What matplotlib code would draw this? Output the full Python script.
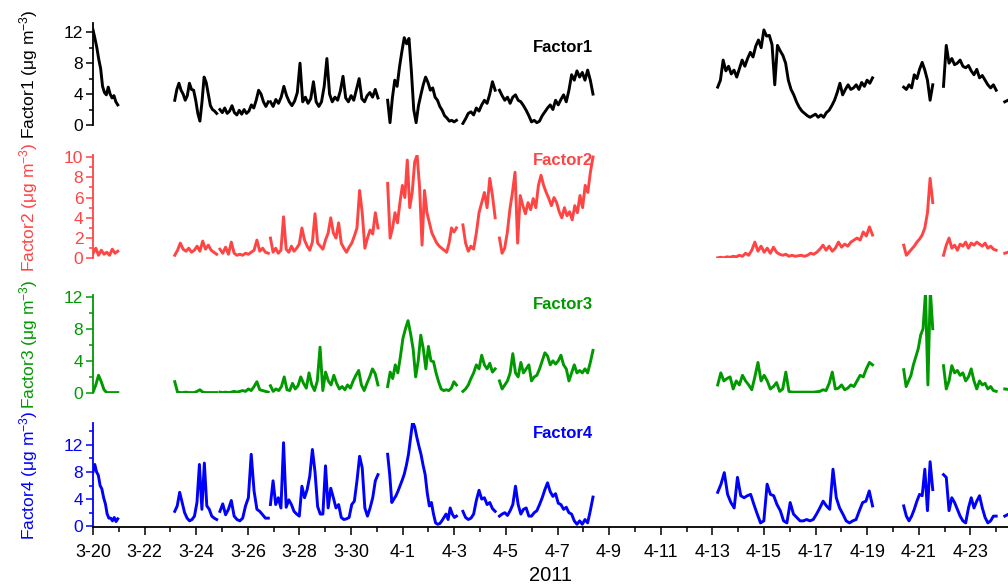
import matplotlib
matplotlib.use("Agg")
import matplotlib.pyplot as plt
import pandas as pd

plt.rcParams['font.family'] = ['Liberation Sans', 'DejaVu Sans']
plt.rcParams['mathtext.fontset'] = 'custom'
plt.rcParams['mathtext.rm'] = 'Liberation Sans'
plt.rcParams['mathtext.it'] = 'Liberation Sans'

# sampling periods (start, end) - the gaps between them are missing data
segments = [
    ("2011-03-20 00:00", "2011-03-20 23:00"),
    ("2011-03-23 04:00", "2011-03-24 19:00"),
    ("2011-03-24 22:00", "2011-03-26 19:00"),
    ("2011-03-26 21:00", "2011-03-31 01:00"),
    ("2011-03-31 10:00", "2011-04-03 02:00"),
    ("2011-04-03 08:00", "2011-04-04 14:00"),
    ("2011-04-04 18:00", "2011-04-08 09:00"),
    ("2011-04-13 05:00", "2011-04-19 05:00"),
    ("2011-04-20 10:00", "2011-04-21 13:00"),
    ("2011-04-21 23:00", "2011-04-24 00:00"),
    ("2011-04-24 08:00", "2011-04-24 14:00"),
]

factor1 = [
    [12.3, 11.2, 10.0, 8.5, 7.3, 5.0, 4.2, 3.9, 4.9, 4.0, 3.5, 3.8, 3.0, 2.6],
    [3.2, 4.6, 5.4, 4.5, 4.0, 3.2, 3.8, 5.4, 4.6, 4.5, 3.2, 1.5, 0.5, 3.0, 6.2, 5.5, 4.0, 2.5, 2.0, 1.8, 1.5],
    [2.0, 1.6, 2.2, 1.5, 1.8, 2.5, 1.6, 1.3, 1.9, 1.4, 2.0, 1.5, 1.8, 2.6, 2.2, 3.2, 4.5, 4.0, 3.0, 2.4, 3.0],
    [3.0, 2.4, 3.3, 2.8, 3.6, 5.0, 3.8, 3.0, 2.5, 3.1, 4.2, 8.0, 3.0, 3.6, 2.8, 3.4, 5.6, 3.0, 2.4, 3.0, 5.0,
     8.6, 4.0, 3.0, 3.6, 3.2, 4.4, 6.3, 3.5, 3.0, 3.8, 3.2, 4.6, 6.0, 3.4, 3.0, 3.8, 4.2, 3.6, 4.6, 3.5],
    [3.2, 0.3, 3.5, 5.8, 5.0, 7.5, 9.5, 11.3, 10.5, 11.2, 7.0, 2.0, 0.3, 2.5, 3.9, 5.2, 6.2, 5.5, 4.5, 4.8,
     3.6, 3.2, 2.4, 1.9, 1.2, 0.9, 0.5, 0.6, 0.4, 0.6],
    [0.2, 0.8, 1.5, 1.7, 1.3, 2.2, 1.8, 2.6, 3.2, 2.8, 4.0, 5.6, 4.5],
    [4.5, 3.8, 3.2, 3.6, 2.8, 3.6, 3.9, 3.2, 3.0, 2.5, 1.9, 1.2, 0.4, 0.6, 0.3, 0.5, 1.2, 1.7, 2.2, 2.6, 2.0,
     3.2, 2.6, 3.3, 3.9, 3.0, 4.5, 6.5, 5.8, 7.0, 6.2, 6.8, 5.8, 7.1, 5.8, 4.0],
    [4.9, 5.8, 8.4, 7.0, 7.6, 6.6, 7.1, 6.2, 7.3, 8.4, 7.6, 8.6, 9.4, 8.8, 10.2, 11.0, 10.0, 12.3, 11.5, 11.6,
     10.4, 5.2, 10.3, 9.6, 9.0, 8.0, 5.8, 4.6, 3.9, 3.0, 2.3, 1.8, 1.5, 1.2, 1.0, 1.2, 1.4, 1.0, 1.3, 1.0,
     1.6, 1.9, 2.5, 3.2, 4.2, 5.4, 3.9, 4.6, 5.2, 4.6, 4.8, 5.2, 4.6, 5.5, 5.0, 5.8, 5.4, 6.1],
    [4.9, 4.6, 5.2, 4.8, 6.5, 6.0, 7.2, 8.1, 7.1, 5.8, 3.2, 5.2],
    [5.0, 10.3, 8.0, 8.6, 7.8, 8.0, 8.4, 7.6, 7.4, 7.7, 7.0, 6.5, 7.2, 6.1, 6.4, 5.8, 5.2, 4.8, 5.2, 4.5],
    [3.0, 3.4],
]

factor2 = [
    [0.5, 1.0, 0.3, 0.8, 0.4, 0.6, 0.3, 0.9, 0.5, 0.7],
    [0.3, 0.8, 1.5, 0.9, 0.7, 1.0, 0.6, 0.8, 1.2, 0.7, 1.7, 0.9, 1.3, 0.8, 0.6, 0.4],
    [0.9, 0.5, 1.1, 0.4, 1.6, 0.5, 0.3, 0.4, 0.3, 0.5, 0.4, 0.6, 0.8, 1.8, 0.7, 1.0, 0.6, 0.5],
    [2.0, 0.6, 1.0, 0.5, 0.8, 4.1, 0.9, 0.6, 1.2, 0.7, 1.0, 1.4, 3.0, 1.8, 1.2, 0.8, 1.6, 4.4, 1.5, 1.2, 0.9,
     1.8, 2.5, 4.0, 2.5, 2.0, 3.5, 1.5, 1.0, 0.6, 1.1, 1.5, 2.2, 3.0, 6.7, 4.5, 1.0, 2.0, 2.8, 2.4, 4.5, 3.0],
    [7.4, 2.0, 3.0, 4.5, 3.5, 5.5, 7.2, 6.0, 9.7, 5.0, 6.5, 9.5, 10.2, 7.0, 1.3, 6.7, 4.5, 3.5, 2.5, 2.0,
     1.5, 1.2, 1.0, 0.8, 0.6, 1.5, 3.0, 2.6, 3.0],
    [3.3, 1.5, 0.7, 1.2, 0.9, 2.5, 4.5, 5.5, 6.5, 5.0, 7.9, 6.2, 4.0],
    [2.0, 0.5, 1.0, 2.5, 4.8, 6.5, 8.5, 1.5, 6.2, 5.2, 4.4, 5.5, 4.8, 5.9, 5.0, 7.2, 8.2, 7.2, 6.5, 5.9, 5.2,
     6.0, 5.5, 4.6, 4.0, 5.0, 4.2, 4.6, 3.8, 5.2, 4.5, 6.2, 5.0, 7.2, 6.5, 8.5, 10.0],
    [0.05, 0.1, 0.05, 0.15, 0.1, 0.2, 0.15, 0.3, 0.2, 0.5, 0.3, 0.8, 1.6, 0.7, 1.2, 0.6, 1.0, 0.5, 1.1, 0.6,
     0.4, 0.3, 0.4, 0.2, 0.3, 0.2, 0.25, 0.3, 0.2, 0.3, 0.5, 0.4, 0.6, 0.9, 1.3, 0.8, 1.2, 0.7, 1.0, 1.6,
     1.1, 1.4, 1.2, 1.6, 1.8, 2.0, 1.8, 2.6, 2.2, 3.1, 2.3],
    [1.3, 0.3, 0.6, 0.9, 1.2, 1.6, 1.9, 2.3, 3.0, 4.5, 7.9, 5.5],
    [0.3, 1.3, 2.0, 1.0, 1.3, 0.8, 1.4, 1.2, 1.6, 1.0, 1.5, 1.3, 1.6, 1.4, 1.2, 1.5, 1.0, 1.2, 0.9, 0.8],
    [0.5, 0.7],
]

factor3 = [
    [0.1, 1.0, 2.2, 1.4, 0.4, 0.05, 0.05, 0.05, 0.05, 0.05],
    [1.4, 0.1, 0.05, 0.05, 0.1, 0.05, 0.05, 0.05, 0.2, 0.4, 0.1, 0.05, 0.05, 0.05, 0.05, 0.05],
    [0.1, 0.05, 0.1, 0.05, 0.1, 0.2, 0.1, 0.2, 0.3, 0.2, 0.5, 0.3, 0.8, 1.4, 0.4, 0.3, 0.2, 0.1],
    [0.9, 0.2, 0.5, 0.3, 0.8, 2.0, 0.4, 0.3, 1.2, 0.5, 0.9, 2.0, 1.2, 0.6, 2.5, 1.0, 0.3, 1.5, 5.7, 0.3,
     2.6, 1.5, 1.0, 2.2, 1.2, 0.5, 0.8, 0.4, 1.0, 0.6, 1.5, 2.2, 2.8, 1.0, 0.3, 1.2, 2.0, 3.0, 2.4, 1.0],
    [0.8, 2.6, 1.8, 3.5, 2.5, 4.5, 6.8, 8.0, 9.0, 7.4, 5.5, 2.0, 4.0, 7.2, 5.5, 3.0, 5.8, 4.0, 3.9, 2.5,
     1.4, 0.5, 0.3, 0.4, 0.3, 0.6, 1.4, 1.0],
    [0.2, 0.5, 1.0, 1.8, 2.5, 3.5, 3.0, 4.7, 3.5, 3.0, 3.7, 2.6, 3.0],
    [1.5, 0.5, 1.0, 1.5, 2.5, 4.9, 2.5, 2.0, 3.8, 2.5, 3.0, 3.5, 1.5, 2.0, 2.2, 3.0, 4.0, 5.0, 4.6, 3.5,
     4.0, 3.6, 4.0, 4.7, 3.5, 3.0, 1.5, 2.5, 3.5, 2.5, 2.8, 2.5, 3.0, 2.5, 3.8, 5.3],
    [1.0, 2.5, 1.5, 1.8, 2.0, 0.5, 1.5, 1.0, 2.2, 1.5, 1.0, 0.4, 2.0, 3.8, 1.5, 2.2, 1.5, 0.5, 0.8, 1.3,
     0.2, 0.5, 2.6, 0.2, 0.1, 0.1, 0.1, 0.1, 0.1, 0.1, 0.1, 0.1, 0.15, 0.2, 0.4, 0.3, 1.2, 2.6, 0.5, 0.6,
     1.0, 0.4, 0.6, 1.0, 0.8, 1.5, 2.2, 2.0, 3.0, 3.8, 3.5],
    [2.9, 0.8, 1.5, 2.2, 3.5, 4.5, 5.5, 7.2, 8.0, 12.5, 1.0, 12.8, 8.0],
    [3.4, 0.5, 1.5, 3.4, 2.5, 2.8, 2.2, 2.5, 1.5, 2.0, 3.0, 1.5, 0.5, 1.5, 1.0, 1.2, 0.5, 0.8, 0.3, 0.2],
    [0.5, 0.4],
]

factor4 = [
    [8.0, 9.1, 8.0, 7.5, 6.0, 5.5, 4.2, 3.3, 1.8, 1.2, 1.2, 0.8, 1.3, 0.7, 1.1],
    [2.2, 3.0, 5.0, 3.5, 2.0, 1.2, 0.8, 1.0, 1.5, 3.5, 9.1, 2.5, 9.3, 3.0, 2.5, 1.5, 1.2, 1.0],
    [2.2, 3.3, 1.7, 2.5, 3.8, 1.5, 1.0, 0.8, 1.2, 3.0, 4.2, 10.6, 5.2, 2.5, 2.2, 1.7, 1.2, 1.2],
    [3.2, 6.7, 3.2, 4.2, 2.7, 12.3, 2.8, 3.9, 3.2, 2.2, 1.8, 1.5, 5.9, 4.2, 5.4, 7.4, 11.3, 8.0, 2.9, 1.8,
     1.8, 8.9, 2.7, 5.6, 4.2, 2.7, 3.2, 1.3, 1.0, 1.1, 1.3, 3.2, 3.7, 6.7, 10.3, 8.6, 2.7, 1.5, 2.7, 4.2,
     6.7, 7.6],
    [10.6, 7.6, 3.5, 4.0, 4.5, 5.2, 6.0, 6.8, 7.7, 9.0, 10.6, 13.0, 15.4, 14.6, 13.1, 11.8, 10.6, 9.0, 7.6,
     4.9, 3.0, 3.5, 1.8, 0.5, 0.3, 0.4, 0.8, 1.3, 1.8, 1.0, 2.7, 1.8, 1.3, 1.5],
    [2.2, 1.3, 1.0, 1.2, 1.8, 3.8, 5.3, 4.0, 4.2, 3.2, 3.5, 2.6, 2.2],
    [1.5, 1.8, 2.0, 1.6, 2.3, 3.2, 5.9, 3.2, 1.8, 2.5, 2.7, 1.5, 1.5, 2.0, 2.3, 3.2, 4.2, 5.4, 6.4, 5.1,
     4.4, 4.8, 3.4, 3.2, 2.5, 2.8, 2.0, 1.8, 0.8, 0.3, 0.8, 0.3, 1.0, 0.5, 2.3, 4.3],
    [5.0, 6.2, 7.9, 4.7, 3.5, 2.7, 7.2, 4.5, 4.2, 4.5, 4.7, 3.2, 1.8, 0.5, 0.8, 6.2, 4.7, 4.5, 3.2, 2.3,
     0.8, 0.5, 3.5, 1.8, 1.3, 0.8, 0.8, 1.0, 0.8, 1.0, 1.8, 2.7, 3.7, 3.0, 2.5, 8.4, 4.2, 2.7, 1.8, 0.8,
     0.5, 0.8, 1.0, 2.3, 3.5, 3.7, 5.2, 3.0],
    [3.0, 1.5, 0.8, 1.5, 2.5, 3.7, 4.7, 4.5, 8.4, 2.3, 9.5, 5.4],
    [7.6, 7.2, 2.3, 4.2, 3.5, 2.5, 1.5, 0.8, 0.5, 2.7, 4.2, 2.7, 3.7, 4.5, 2.7, 1.3, 0.5, 0.8, 1.5, 1.5],
    [1.5, 2.0],
]

names = ["Factor1", "Factor2", "Factor3", "Factor4"]
colors = ["black", "#FF4444", "#009900", "#0000FF"]
series = [factor1, factor2, factor3, factor4]
ylims = [(0, 13.2), (0, 10.2), (0, 12.2), (-0.1, 15.2)]
yticks = [[0, 4, 8, 12], [0, 2, 4, 6, 8, 10], [0, 4, 8, 12], [0, 4, 8, 12]]
yminor = [[2, 6, 10], [1, 3, 5, 7, 9], [2, 6, 10], [2, 6, 10, 14]]
label_y = [0.755, 0.95, 0.90, 0.90]

# axes boxes [left, bottom, width, height] in figure fractions
boxes = [
    [0.0923, 0.7867, 0.9077, 0.1741],
    [0.0923, 0.5592, 0.9077, 0.1763],
    [0.0923, 0.3294, 0.9077, 0.1672],
    [0.0923, 0.1007, 0.9077, 0.1775],
]

fig = plt.figure(figsize=(10.08, 5.86), dpi=100)
axes = []
for i in range(4):
    ax = fig.add_axes(boxes[i])
    c = colors[i]
    for (t0, t1), vals in zip(segments, series[i]):
        t = pd.date_range(t0, t1, periods=len(vals))
        ax.plot(t, vals, color=c, lw=2.1)
    ax.set_ylim(*ylims[i])
    ax.set_yticks(yticks[i])
    ax.set_yticks(yminor[i], minor=True)
    for s in ['top', 'right']:
        ax.spines[s].set_visible(False)
    ax.spines['left'].set_color(c)
    ax.spines['left'].set_linewidth(1.3)
    ax.tick_params(axis='y', colors=c, labelsize=12.5, direction='out', length=5, width=1.1, pad=2)
    ax.tick_params(axis='y', which='minor', colors=c, length=3, width=1.1)
    ax.set_ylabel(names[i] + ' (\u03bcg m$^{-3}$)', color=c, fontsize=12.5)
    ax.yaxis.set_label_coords(-0.058, 0.5)
    ax.text(0.5464, label_y[i], names[i], transform=ax.transAxes, color=c,
            fontsize=12, fontweight='bold', ha='right', va='center')
    axes.append(ax)

x0 = pd.Timestamp("2011-03-20 00:00")
x1 = pd.Timestamp("2011-04-24 11:00")
major = pd.date_range("2011-03-20", "2011-04-24", freq="2D")
minor = pd.date_range("2011-03-20", "2011-04-24", freq="D")
for i, ax in enumerate(axes):
    ax.set_xlim(x0, x1)
    if i < 3:
        ax.spines['bottom'].set_visible(False)
        ax.set_xticks([])
        ax.set_xticks([], minor=True)

ax = axes[3]
ax.set_xticks(major)
ax.set_xticks(minor, minor=True)
ax.set_xticklabels([f"{d.month}-{d.day}" for d in major])
ax.spines['bottom'].set_linewidth(1.3)
ax.tick_params(axis='x', labelsize=13, direction='out', length=5.5, width=1.1, pad=7)
ax.tick_params(axis='x', which='minor', length=3.5, width=1.1)
ax.set_xlabel("2011", fontsize=14.5, labelpad=3)

fig.savefig("out.png", dpi=100)
